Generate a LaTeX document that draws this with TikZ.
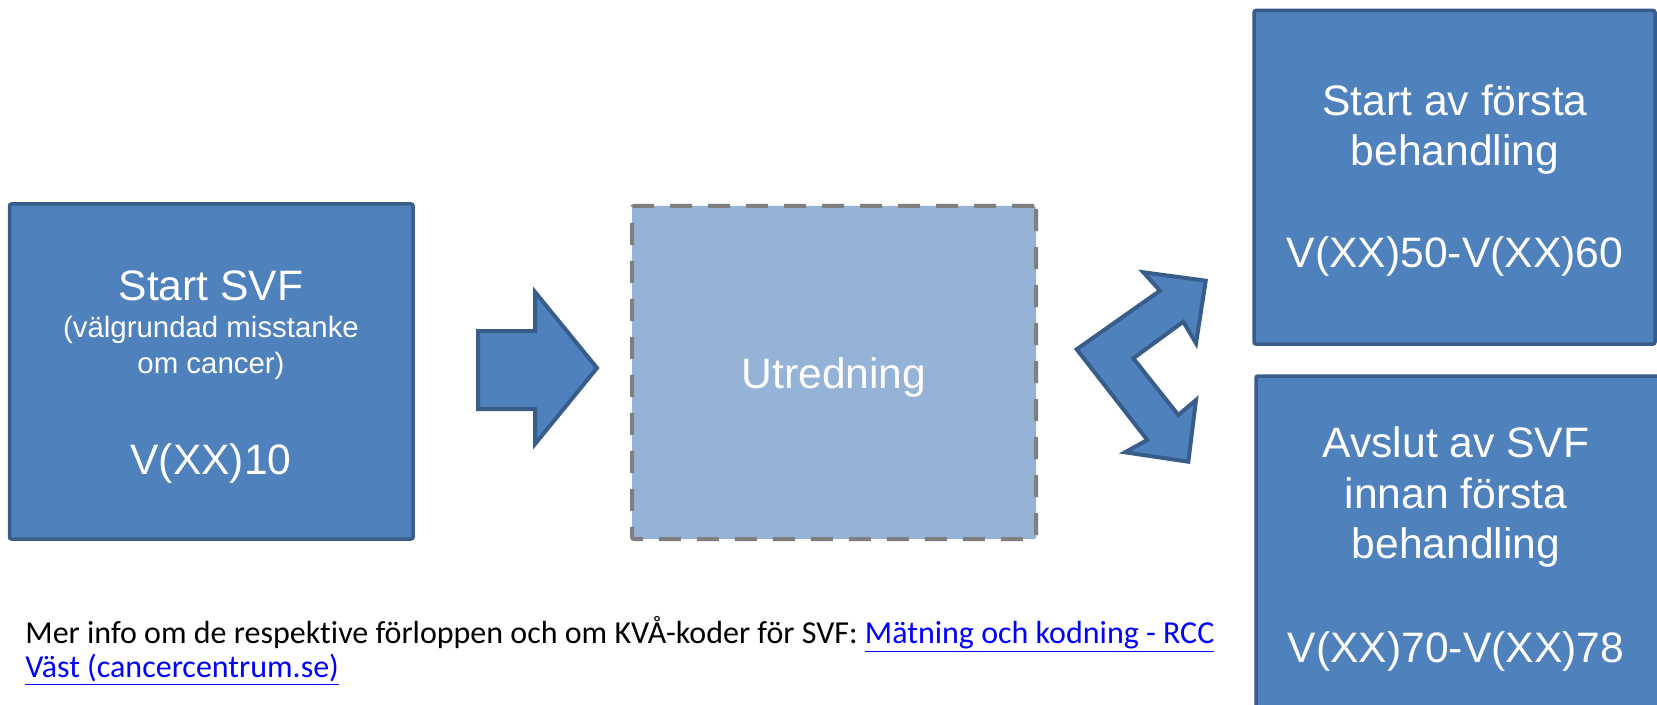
\documentclass[tikz,border=0pt]{standalone}
\usepackage{fontspec}
\setmainfont{Liberation Sans}
\newfontfamily\calfont[Ligatures={NoCommon}]{Carlito}
\definecolor{boxfill}{HTML}{4F81BD}
\definecolor{boxline}{HTML}{385D8A}
\definecolor{lightfill}{HTML}{95B3D7}
\definecolor{dashgray}{HTML}{7F7F7F}
\definecolor{linkblue}{HTML}{0000FF}
\tikzset{
  bluebox/.style={draw=boxline, fill=boxfill, line width=1.75pt, rounded corners=1pt, inner sep=0pt},
  dashbox/.style={draw=dashgray, fill=lightfill, line width=2pt, dash pattern=on 11pt off 8pt, rounded corners=1pt, inner sep=0pt},
  bigtxt/.style={anchor=base, text=white, inner sep=0pt, font=\fontsize{21.3}{24}\selectfont},
  smalltxt/.style={anchor=base, text=white, inner sep=0pt, font=\fontsize{14.7}{17}\selectfont},
  blockarrow/.style={draw=boxline, fill=boxfill, line width=2pt, line join=miter},
  note/.style={anchor=base west, inner sep=0pt, font=\calfont\fontsize{16}{19}\selectfont},
}
\begin{document}
\begin{tikzpicture}[x=0.5pt,y=-0.5pt]
\useasboundingbox (0,0) rectangle (1657,705);
\clip (0,0) rectangle (1657,705);
\fill[white] (0,0) rectangle (1657,705);

% boxes
\node[bluebox, minimum width=201.75pt, minimum height=167.5pt] (b1) at (211.25,371.5) {};
\node[dashbox, minimum width=202pt, minimum height=166.5pt] (b2) at (834,372.5) {};
\node[bluebox, minimum width=200.5pt, minimum height=166.75pt] (b3) at (1454.5,177.25) {};
\node[bluebox, minimum width=207pt, minimum height=172pt] (b4) at (1463,548) {};

% box 1 text
\node[bigtxt] (t1a) at (211,300) {Start SVF};
\node[smalltxt] (t1b) at (211,337) {(välgrundad misstanke};
\node[smalltxt] (t1c) at (211,373) {om cancer)};
\node[bigtxt] (t1d) at (211,474) {V(XX)10};

% box 2 text
\node[bigtxt] (t2) at (834,388) {Utredning};

% box 3 text
\node[bigtxt] (t3a) at (1455,116) {Start av första};
\node[bigtxt] (t3b) at (1455,166) {behandling};
\node[bigtxt] (t3c) at (1455,268) {V(XX)50-V(XX)60};

% box 4 text
\node[bigtxt] (t4a) at (1456,457) {Avslut av SVF};
\node[bigtxt] (t4b) at (1456,508) {innan första};
\node[bigtxt] (t4c) at (1456,558) {behandling};
\node[bigtxt] (t4d) at (1456,662) {V(XX)70-V(XX)78};

% right arrow
\draw[blockarrow] (478,331) -- (535,331) -- (535,292) -- (597,368) -- (535,444) -- (535,409) -- (478,409) -- cycle;

% bent double arrow
\draw[blockarrow] (1205.7,280.7) -- (1143.3,272.3) -- (1160,290.7) -- (1076.7,349.3)
  -- (1147.3,440) -- (1125,452.3) -- (1188.3,461.7) -- (1196,400) -- (1178.3,415)
  -- (1133.3,358.3) -- (1183.3,321.7) -- (1196,343.3) -- cycle;

% note text
\node[note] (n1) at (25,643) {Mer info om de respektive förloppen och om KVÅ-koder för SVF: \textcolor{linkblue}{\underline{Mätning och kodning - RCC}}};
\node[note] (n2) at (25,677) {\textcolor{linkblue}{\underline{Väst (cancercentrum.se)}}};
\end{tikzpicture}
\end{document}
